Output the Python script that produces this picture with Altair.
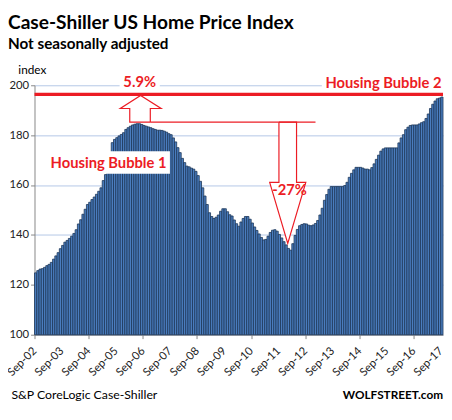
import altair as alt
import pandas as pd

# ---- data (monthly index, Sep-2002 .. Sep-2017) ----
values = [
    124.8, 125.7, 126.3, 126.5, 127.0, 127.7, 128.2, 129.0, 130.3, 131.6, 132.9, 134.5,
    135.8, 137.1, 137.8, 138.6, 139.5, 140.6, 142.1, 144.4, 146.1, 148.3, 150.3, 152.2,
    153.1, 154.2, 155.2, 156.3, 157.5, 158.9, 161.8, 164.2, 167.8, 172.0,
    177.0, 178.3, 179.0, 179.7, 180.3, 181.0, 182.3, 183.0, 183.6, 184.1, 184.4, 184.6,
    184.6, 184.3, 183.9, 183.6, 183.3, 183.0, 182.6, 182.3, 182.0, 182.0, 181.9, 181.6,
    181.2, 180.6,
    180.2, 178.9, 177.3, 175.0, 173.0, 170.7, 169.0, 167.6, 167.3, 166.8, 166.4, 165.5,
    163.8, 161.5, 158.9, 155.6, 152.2, 148.9, 147.4, 146.6, 147.1, 148.0, 149.5, 150.5,
    150.5, 149.3, 148.1, 147.6, 146.0, 144.5, 143.5,
    145.2, 146.6, 147.4, 147.4, 146.3, 144.8, 143.2, 141.8, 140.4, 139.0, 138.0, 138.2,
    139.5, 141.0, 141.9, 142.1, 141.5, 140.2, 138.8, 137.3, 136.0, 134.6, 133.9, 136.5,
    139.8, 142.2, 143.7, 144.2, 144.5, 144.4, 143.9, 143.7, 144.0, 144.6,
    145.8, 148.0, 150.7, 153.9, 156.2, 158.3, 159.4, 159.4, 159.4, 159.4, 159.4, 159.4,
    159.8, 161.1, 163.1, 164.7, 166.1, 167.1, 167.1, 167.1, 166.8, 166.4, 166.4, 166.1,
    167.0, 168.5, 170.3, 172.0, 173.6, 174.5, 174.9, 174.9, 174.9, 174.9, 174.9, 174.9,
    176.9, 178.9, 180.2, 182.2, 183.2, 183.9, 184.1, 184.1, 184.1, 184.5, 185.0, 185.4,
    186.7, 188.5, 190.7, 192.4, 193.7, 194.6, 194.9, 195.3,
]
tick_labels = ["Sep-02", "Sep-03", "Sep-04", "Sep-05", "Sep-06", "Sep-07", "Sep-08",
               "Sep-09", "Sep-10", "Sep-11", "Sep-12", "Sep-13", "Sep-14", "Sep-15",
               "Sep-16", "Sep-17"]
tick_months = [12 * k for k in range(len(tick_labels))]
y_ticks = [100, 120, 140, 160, 180, 200]

bubble2_level = 196.4

# annotation shapes (in axis units: month index, index value)
up_x = [51.3, 51.3, 56.1, 47.0, 38.0, 42.2, 42.2, 51.3]
up_y = [185.2, 190.7, 190.7, 195.9, 190.7, 190.7, 185.2, 185.2]
down_x = [108.3, 108.3, 104.2, 112.2, 120.2, 116.1, 116.1, 108.3]
down_y = [185.2, 161.1, 161.1, 136.6, 161.1, 161.1, 185.2, 185.2]
link_x = [51.3, 124.5]
link_y = [185.2, 185.2]

box_x = [37.7, 127.3, 31.6, 105.0]
box_x2 = [55.5, 182.0, 60.0, 120.0]
box_y = [198.2, 198.2, 164.5, 155.2]
box_y2 = [203.0, 203.0, 173.6, 160.6]

ann_text = ["5.9%", "Housing Bubble 2", "Housing Bubble 1", "-27%"]
ann_x = [46.6, 180.3, 32.8, 113.0]
ann_y = [201.3, 201.0, 168.9, 157.8]
ann_align = ["center", "right", "center", "center"]

RED = "#ec1c24"
FONT = "Lato"

df = pd.DataFrame({"i": list(range(len(values))), "v": values})
df["i2"] = df["i"] + 1

xscale = alt.Scale(domain=[0, len(values)], nice=False, zero=False)
yscale = alt.Scale(domain=[100, 200], nice=False, zero=False)

bars = alt.Chart(df).mark_bar(
    fill="#4a7dbf", stroke="#1c3557", strokeWidth=0.8
).encode(
    x=alt.X("i:Q", scale=xscale, title=None,
            axis=alt.Axis(values=tick_months, labels=False,
                          tickSize=4, tickColor="#868686",
                          domainColor="#868686", grid=False)),
    x2="i2:Q",
    y=alt.Y("v:Q", scale=yscale, title=None,
            axis=alt.Axis(values=y_ticks, tickSize=4, tickColor="#868686",
                          domainColor="#868686", gridColor="#b4c7e7", gridWidth=1,
                          labelPadding=2, labelFontSize=11.5, labelColor="#222222",
                          labelFont=FONT)),
    y2=alt.datum(100),
)

# x-axis tick labels (rotated), one per September
xlabels = alt.Chart(pd.DataFrame({"m": tick_months, "t": tick_labels})).mark_text(
    angle=315, align="right", baseline="alphabetic", fontSize=11.5, font=FONT,
    color="#222222", dx=4
).encode(x=alt.X("m:Q", scale=xscale), y=alt.value(274), text="t:N")

red_line = alt.Chart(pd.DataFrame({"y": [bubble2_level]})).mark_rule(
    color=RED, strokeWidth=3.3
).encode(y=alt.Y("y:Q", scale=yscale))

boxes = alt.Chart(pd.DataFrame({"x": box_x, "x2": box_x2, "y": box_y, "y2": box_y2})).mark_rect(
    fill="white"
).encode(x=alt.X("x:Q", scale=xscale), x2="x2:Q", y=alt.Y("y:Q", scale=yscale), y2="y2:Q")

shape_rows = []
for name, xs, ys in [("up", up_x, up_y), ("down", down_x, down_y)]:
    for k, (a, b) in enumerate(zip(xs, ys)):
        shape_rows.append({"s": name, "k": k, "x": a, "y": b})
shapes = alt.Chart(pd.DataFrame(shape_rows)).mark_line(
    fill="white", stroke=RED, strokeWidth=1.2
).encode(x=alt.X("x:Q", scale=xscale), y=alt.Y("y:Q", scale=yscale),
         order="k:Q", detail="s:N")

link = alt.Chart(pd.DataFrame({"x": link_x, "y": link_y})).mark_line(
    color=RED, strokeWidth=1.2
).encode(x=alt.X("x:Q", scale=xscale), y=alt.Y("y:Q", scale=yscale))

ann_layers = []
for t, ax, ay, al in zip(ann_text, ann_x, ann_y, ann_align):
    ann_layers.append(
        alt.Chart(pd.DataFrame({"t": [t], "x": [ax], "y": [ay]})).mark_text(
            color=RED, fontSize=15, fontWeight="bold", font=FONT, align=al, baseline="middle"
        ).encode(x=alt.X("x:Q", scale=xscale), y=alt.Y("y:Q", scale=yscale), text="t:N")
    )

def page_text(txt, px, py, size, weight="normal", align="left"):
    return alt.Chart(pd.DataFrame({"t": [txt]})).mark_text(
        fontSize=size, fontWeight=weight, font=FONT, align=align,
        baseline="alphabetic", color="black"
    ).encode(x=alt.value(px), y=alt.value(py), text="t:N")

title = page_text("Case-Shiller US Home Price Index", -27, -57, 19.5, "bold")
subtitle = page_text("Not seasonally adjusted", -27, -36.5, 15.5, "bold")
unit = page_text("index", -16.5, -11.5, 12)
src = page_text("S&P CoreLogic Case-Shiller", -23.5, 319.5, 12.5)
brand = page_text("WOLFSTREET.com", 416, 319.5, 12, "bold", "right")

chart = alt.layer(
    bars, xlabels, red_line, boxes, shapes, link, *ann_layers,
    title, subtitle, unit, src, brand
).properties(
    width=416, height=254,
    autosize=alt.AutoSizeParams(type="none"),
    padding={"left": 27, "top": 75, "right": 1, "bottom": 75},
).configure_view(stroke=None)

chart.save("out.html", embed_options={"renderer": "svg", "actions": False})
